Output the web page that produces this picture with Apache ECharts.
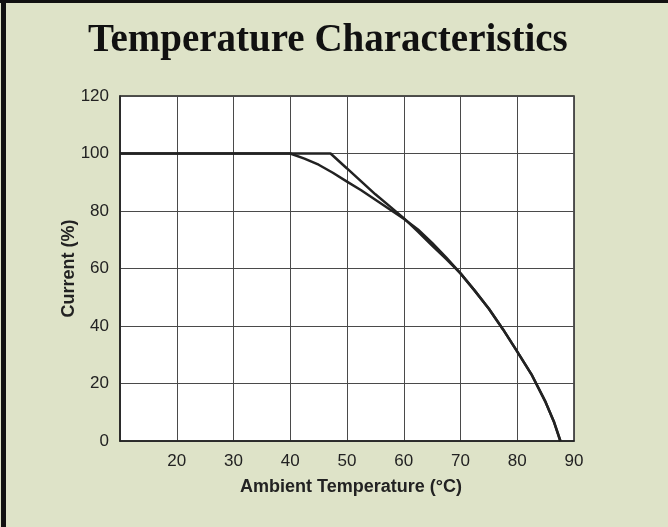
<!DOCTYPE html>
<html>
<head>
<meta charset="utf-8">
<script src="https://cdn.jsdelivr.net/npm/echarts@6/dist/echarts.min.js"></script>
<style>
  html, body { margin: 0; padding: 0; background: #dee3c8; }
  #chart { width: 668px; height: 527px; }
</style>
</head>
<body>
<div id="chart"></div>
<script>
// derating curve that starts at 40 °C
var tempA = [10, 40, 42.5, 45, 47.5, 50, 52.5, 55, 57.5, 60, 62.5, 65, 67.5, 70, 72.5, 75, 77.5, 80, 82.5, 85, 86.5, 87.6];
var currentA = [100, 100, 98.2, 96.1, 93.3, 90.2, 87.2, 83.9, 80.6, 77.3, 73.6, 68.9, 63.8, 58.3, 52.3, 46, 38.8, 31.1, 23.2, 13.5, 6.5, 0];
// derating curve that starts at 47 °C
var tempB = [10, 47.1, 50, 52.5, 55, 57.5, 60, 62.5, 65, 67.5, 70, 72.5, 75, 77.5, 80, 82.5, 85, 86.5, 87.6];
var currentB = [100, 100, 94.8, 90.3, 85.8, 81.7, 77.5, 72.8, 68, 63.3, 58.3, 52.3, 46, 38.8, 31.1, 23.2, 13.5, 6.5, 0];

var xTicks = [20, 30, 40, 50, 60, 70, 80, 90];
var yTicks = [0, 20, 40, 60, 80, 100, 120];

function pairs (xs, ys) {
  return xs.map(function (x, i) { return [x, ys[i]]; });
}

var chart = echarts.init(document.getElementById('chart'));

var option = {
  backgroundColor: '#dee3c8',
  animation: false,
  title: {
    text: 'Temperature Characteristics',
    left: 83,
    top: 16,
    textStyle: {
      fontFamily: 'Liberation Serif',
      fontWeight: 'bold',
      fontSize: 39,
      color: '#111'
    }
  },
  graphic: [
    // dark frame on the top and left edges
    { type: 'rect', shape: { x: 0, y: 0, width: 668, height: 3 }, style: { fill: '#111' } },
    { type: 'rect', shape: { x: 1, y: 0, width: 5, height: 527 }, style: { fill: '#111' } }
  ],
  grid: {
    left: 120,
    right: 94,
    top: 96,
    bottom: 86,
    show: true,
    backgroundColor: '#fff',
    borderColor: '#222',
    borderWidth: 1.5
  },
  xAxis: {
    type: 'value',
    min: 10,
    max: 90,
    interval: 10,
    name: 'Ambient Temperature (°C)',
    nameLocation: 'middle',
    nameGap: 37,
    nameTextStyle: {
      fontFamily: 'Liberation Sans',
      fontWeight: 'bold',
      fontSize: 18,
      color: '#222',
      padding: [0, 0, 0, 8]
    },
    axisLine: { lineStyle: { color: '#222', width: 1.5 } },
    axisTick: { show: false },
    axisLabel: {
      margin: 12,
      fontFamily: 'Liberation Sans',
      fontSize: 17,
      color: '#222',
      formatter: function (v) { return xTicks.indexOf(v) >= 0 ? v : ''; }
    },
    splitLine: { lineStyle: { color: '#4a4a4a', width: 1 } }
  },
  yAxis: {
    type: 'value',
    min: 0,
    max: 120,
    interval: 20,
    name: 'Current (%)',
    nameLocation: 'middle',
    nameGap: 42,
    nameMoveOverlap: false,
    nameTextStyle: {
      fontFamily: 'Liberation Sans',
      fontWeight: 'bold',
      fontSize: 18,
      color: '#222'
    },
    axisLine: { show: true, lineStyle: { color: '#222', width: 1.5 } },
    axisTick: { show: false },
    axisLabel: {
      margin: 11,
      fontFamily: 'Liberation Sans',
      fontSize: 17,
      color: '#222',
      formatter: function (v) { return yTicks.indexOf(v) >= 0 ? v : ''; }
    },
    splitLine: { lineStyle: { color: '#4a4a4a', width: 1 } }
  },
  series: [
    {
      type: 'line',
      data: pairs(tempA, currentA),
      showSymbol: false,
      lineStyle: { color: '#222', width: 2.5 }
    },
    {
      type: 'line',
      data: pairs(tempB, currentB),
      showSymbol: false,
      lineStyle: { color: '#222', width: 2.5 }
    }
  ]
};

chart.setOption(option);
</script>
</body>
</html>
